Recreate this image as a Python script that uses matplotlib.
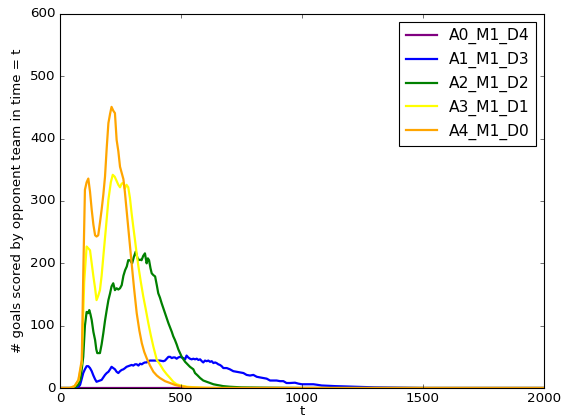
import matplotlib
matplotlib.use('Agg')
import matplotlib.pyplot as plt

plt.style.use('classic')

labels = ['A0_M1_D4', 'A1_M1_D3', 'A2_M1_D2', 'A3_M1_D1', 'A4_M1_D0']
colors = ['purple', 'blue', 'green', 'yellow', 'orange']

t_a0 = [0, 500, 1000, 1500, 2000]
v_a0 = [0, 0, 0, 0, 0]

t_a1 = [0, 60, 75, 83, 90, 96, 103, 110, 117, 124, 131, 138, 145, 151, 158, 165, 172, 179, 186, 193,
        200, 207, 213, 220, 227, 234, 241, 248, 255, 262, 269, 275, 282, 289, 296, 303, 310, 317, 324,
        331, 338, 345, 351, 358, 365, 372, 386, 400, 413, 427, 434, 441, 448, 455, 462, 468, 475, 482,
        489, 496, 503, 510, 517, 523, 530, 537, 544, 551, 558, 565, 572, 579, 586, 592, 599, 606, 613,
        620, 627, 634, 641, 647, 654, 661, 668, 675, 689, 702, 716, 730, 744, 758, 771, 785, 799, 813,
        826, 840, 854, 868, 882, 895, 909, 923, 936, 950, 971, 985, 999, 1020, 1047, 1065, 1081, 1110,
        1136, 1180, 1219, 1260, 1300, 1400, 1500, 2000]
v_a1 = [0, 0, 1, 5, 15, 24, 30, 35, 35, 32, 27, 20, 14, 10, 11, 12, 13, 17, 21, 24,
        26, 30, 34, 32, 30, 26, 24, 27, 29, 30, 32, 34, 35, 36, 37, 36, 38, 38, 36,
        39, 38, 40, 41, 41, 43, 44, 44, 44, 44, 43, 44, 47, 50, 50, 48, 49, 49, 47,
        49, 50, 49, 48, 46, 52, 49, 47, 46, 47, 46, 47, 45, 46, 43, 41, 44, 43, 44,
        42, 43, 40, 41, 40, 38, 37, 35, 32, 32, 30, 27, 26, 25, 24, 21, 20, 21, 18,
        17, 16, 15, 12, 12, 12, 11, 11, 8, 8, 8.5, 7, 6, 6, 6, 5, 4, 3.5,
        3, 2.5, 2, 1.5, 1, 0.5, 0, 0]

t_a2 = [0, 50, 62, 75, 85, 96, 103, 110, 116, 121, 126, 131, 138, 145, 150, 154, 165, 172, 179, 186,
        193, 200, 207, 213, 220, 227, 234, 241, 248, 255, 262, 269, 276, 282, 289, 298, 305, 313, 319,
        324, 331, 337, 344, 351, 358, 363, 368, 374, 379, 386, 393, 400, 406, 413, 420, 427, 434, 441,
        448, 455, 462, 468, 475, 482, 489, 496, 503, 510, 517, 527, 537, 551, 558, 569, 579, 592, 606,
        620, 634, 647, 661, 674, 702, 750, 850, 1000, 2000]
v_a2 = [0, 0, 1, 5, 15, 50, 100, 122, 120, 125, 118, 109, 90, 77, 62, 56, 56, 70, 88, 108,
        125, 141, 152, 163, 168, 157, 160, 158, 160, 165, 180, 189, 195, 205, 205, 200, 210, 219, 210,
        205, 206, 205, 212, 216, 200, 208, 205, 192, 184, 181, 179, 165, 152, 145, 136, 128, 120, 112,
        104, 97, 90, 83, 77, 70, 62, 56, 50, 46, 42, 38, 34, 30, 24, 20, 16, 12, 10,
        8, 6, 5, 4, 3, 2, 1, 0.5, 0, 0]

t_a3 = [0, 40, 60, 76, 90, 100, 110, 117, 124, 131, 138, 145, 151, 158, 165, 172, 179, 190, 200, 210,
        218, 226, 233, 241, 248, 255, 262, 268, 275, 282, 289, 296, 303, 310, 317, 324, 334, 344, 355,
        365, 375, 386, 400, 413, 427, 441, 455, 468, 482, 500, 525, 560, 650, 2000]
v_a3 = [0, 0, 3, 12, 40, 170, 227, 224, 221, 200, 179, 160, 141, 148, 157, 180, 211, 258, 302, 330,
        342, 339, 333, 326, 322, 328, 329, 320, 326, 322, 305, 280, 258, 237, 215, 195, 170, 147, 125,
        104, 85, 66, 45, 38, 29, 22, 16, 10, 6, 4, 2, 1, 0, 0]

t_a4 = [0, 40, 60, 76, 90, 96, 103, 110, 117, 124, 131, 138, 145, 151, 158, 165, 172, 179, 186, 193,
        200, 207, 213, 220, 227, 234, 241, 248, 255, 262, 268, 275, 285, 296, 306, 317, 328, 338, 348,
        358, 372, 386, 400, 413, 434, 455, 475, 496, 530, 600, 2000]
v_a4 = [0, 0, 3, 13, 45, 180, 318, 330, 336, 315, 286, 262, 245, 243, 245, 265, 286, 310, 339, 385,
        425, 440, 451, 445, 441, 398, 380, 355, 345, 335, 315, 286, 245, 200, 160, 120, 92, 72, 58,
        48, 36, 26, 20, 16, 11, 8, 5, 3, 1, 0, 0]

series = [(t_a0, v_a0), (t_a1, v_a1), (t_a2, v_a2), (t_a3, v_a3), (t_a4, v_a4)]

fig = plt.figure(figsize=(565 / 80.0, 418 / 80.0), dpi=80)
ax = fig.add_axes([60 / 565.0, 30 / 418.0, 484 / 565.0, 374 / 418.0])

for (t, v), lab, col in zip(series, labels, colors):
    ax.plot(t, v, color=col, lw=2, label=lab)

ax.set_xlim(0, 2000)
ax.set_ylim(0, 600)
ax.set_xlabel('t', fontsize=12, labelpad=0)
ax.set_ylabel('# goals scored by opponent team in time = t', fontsize=12)
ax.tick_params(labelsize=12)
ax.legend(loc='upper right', fontsize=14, numpoints=1)

fig.savefig('out.png', dpi=80, facecolor='white')
